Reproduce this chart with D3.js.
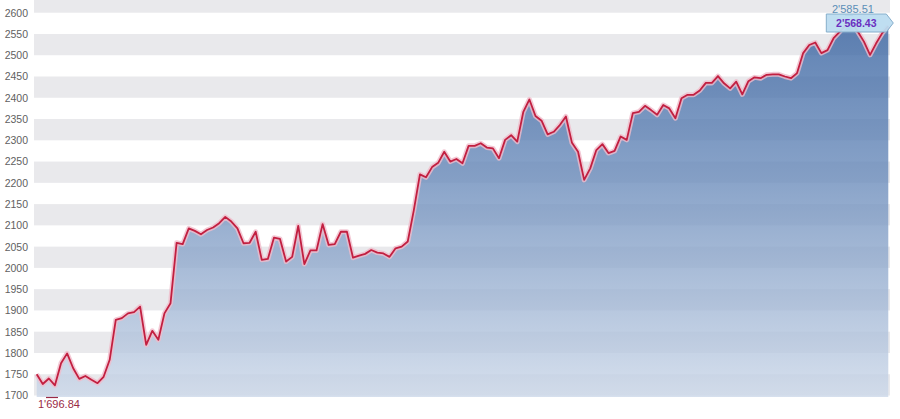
<!DOCTYPE html>
<html>
<head>
<meta charset="utf-8">
<script src="https://cdn.jsdelivr.net/npm/d3@7"></script>
<style>
  html, body { margin: 0; padding: 0; background: #fff; }
  svg { display: block; font-family: "Liberation Sans", Arial, sans-serif; }
</style>
</head>
<body>
<svg id="chart" width="900" height="419"></svg>
<script>
// index values (one per trading day)
const closes = [
  1750, 1727, 1740, 1724, 1776, 1799, 1764, 1739, 1746, 1737,
  1729, 1744, 1784, 1878, 1882, 1893, 1896, 1909, 1819, 1852,
  1831, 1893, 1917, 2059, 2056, 2093, 2087, 2079, 2089, 2095,
  2105, 2120, 2109, 2093, 2058, 2059, 2085, 2019, 2021, 2071,
  2068, 2015, 2026, 2099, 2009, 2041, 2041, 2103, 2054, 2056,
  2085, 2085, 2024, 2029, 2033, 2042, 2036, 2034, 2026, 2046,
  2050, 2062, 2136, 2220, 2213, 2237, 2247, 2273, 2250, 2256,
  2246, 2287, 2287, 2293, 2283, 2281, 2258, 2301, 2312, 2297,
  2367, 2396, 2357, 2346, 2314, 2320, 2336, 2356, 2294, 2273,
  2207, 2234, 2277, 2291, 2270, 2275, 2309, 2301, 2364, 2367,
  2381, 2371, 2360, 2383, 2375, 2352, 2399, 2407, 2407, 2417,
  2435, 2435, 2451, 2434, 2422, 2438, 2408, 2439, 2448, 2446,
  2454, 2455, 2455, 2450, 2446, 2458, 2505, 2524, 2530, 2505,
  2512, 2540, 2555, 2571, 2577, 2555, 2532, 2501, 2528, 2552,
  2568.43
];

const yTicks = [1700, 1750, 1800, 1850, 1900, 1950, 2000, 2050, 2100, 2150,
                2200, 2250, 2300, 2350, 2400, 2450, 2500, 2550, 2600];
const bandStarts = [1700, 1800, 1900, 2000, 2100, 2200, 2300, 2400, 2500, 2600];

const minLabel = "1'696.84";
const maxLabel = "2'585.51";
const lastLabel = "2'568.43";

const svg = d3.select("#chart");
const left = 34, right = 890, bottom = 397;

const x = d3.scaleLinear().domain([0, closes.length - 1]).range([36.7, 888.3]);
const y = d3.scaleLinear().domain([1700, 2600]).range([395.5, 12.7]);

// gradient for the area
const defs = svg.append("defs");
const grad = defs.append("linearGradient")
    .attr("id", "areaGrad")
    .attr("gradientUnits", "userSpaceOnUse")
    .attr("x1", 0).attr("y1", 0).attr("x2", 0).attr("y2", bottom);
grad.append("stop").attr("offset", "0%").attr("stop-color", "#2f5c9c");
grad.append("stop").attr("offset", "45%").attr("stop-color", "#6b8cbb");
grad.append("stop").attr("offset", "100%").attr("stop-color", "#ccd8e9");

defs.append("clipPath").attr("id", "plotClip")
  .append("rect").attr("x", left).attr("y", 0).attr("width", right - left).attr("height", bottom);

// alternating bands
svg.append("g")
    .attr("clip-path", "url(#plotClip)")
    .selectAll("rect")
    .data(bandStarts)
    .join("rect")
    .attr("x", left)
    .attr("width", right - left)
    .attr("y", d => y(d + 50))
    .attr("height", d => y(d) - y(d + 50))
    .attr("fill", "#e9e9ec");

// area
const area = d3.area()
    .x((d, i) => x(i))
    .y0(bottom)
    .y1(d => y(d));

svg.append("path")
    .datum(closes)
    .attr("d", area)
    .attr("fill", "url(#areaGrad)")
    .attr("fill-opacity", 0.8);

// line with a light halo
const line = d3.line()
    .x((d, i) => x(i))
    .y(d => y(d));

svg.append("path")
    .datum(closes)
    .attr("d", line)
    .attr("fill", "none")
    .attr("stroke", "#f0bccb")
    .attr("stroke-width", 5)
    .attr("stroke-linejoin", "round")
    .attr("stroke-opacity", 0.8);

svg.append("path")
    .datum(closes)
    .attr("d", line)
    .attr("fill", "none")
    .attr("stroke", "#c21f40")
    .attr("stroke-width", 1.8)
    .attr("stroke-linejoin", "round");

// y axis labels
const yAxis = d3.axisLeft(y).tickValues(yTicks).tickSize(0).tickPadding(0).tickFormat(d3.format("d"));
const gy = svg.append("g")
    .attr("transform", "translate(28,0)")
    .call(yAxis);
gy.select(".domain").remove();
gy.selectAll("text")
    .attr("fill", "#5f5f5f")
    .style("font-size", "10.5px")
    .style("font-family", "'Liberation Sans', Arial, sans-serif");

// min annotation
svg.append("text")
    .attr("x", 38)
    .attr("y", 408)
    .attr("fill", "#9a2a45")
    .style("font-size", "11px")
    .text(minLabel);
svg.append("line")
    .attr("x1", 46).attr("x2", 58)
    .attr("y1", 397.5).attr("y2", 397.5)
    .attr("stroke", "#9a2a45").attr("stroke-width", 1.2);

// max annotation
svg.append("text")
    .attr("x", 832)
    .attr("y", 13)
    .attr("fill", "#5b8fb8")
    .style("font-size", "11px")
    .text(maxLabel);
svg.append("line")
    .attr("x1", 845).attr("x2", 853)
    .attr("y1", 15.5).attr("y2", 15.5)
    .attr("stroke", "#3f6fa0").attr("stroke-width", 1.2);

// last value tag
const lx = x(closes.length - 1);
const tagY = 23;
const tag = svg.append("g");
tag.append("path")
    .attr("d", `M${lx - 62},${tagY - 9} L${lx - 2},${tagY - 9} L${lx + 5},${tagY} L${lx - 2},${tagY + 9} L${lx - 62},${tagY + 9} Z`)
    .attr("fill", "#bcdcf0")
    .attr("fill-opacity", 0.95)
    .attr("stroke", "#86aecb")
    .attr("stroke-width", 1);
tag.append("text")
    .attr("x", lx - 32)
    .attr("y", tagY + 4)
    .attr("text-anchor", "middle")
    .attr("fill", "#6a2fc0")
    .style("font-size", "10.5px")
    .style("font-weight", "bold")
    .text(lastLabel);
</script>
</body>
</html>
